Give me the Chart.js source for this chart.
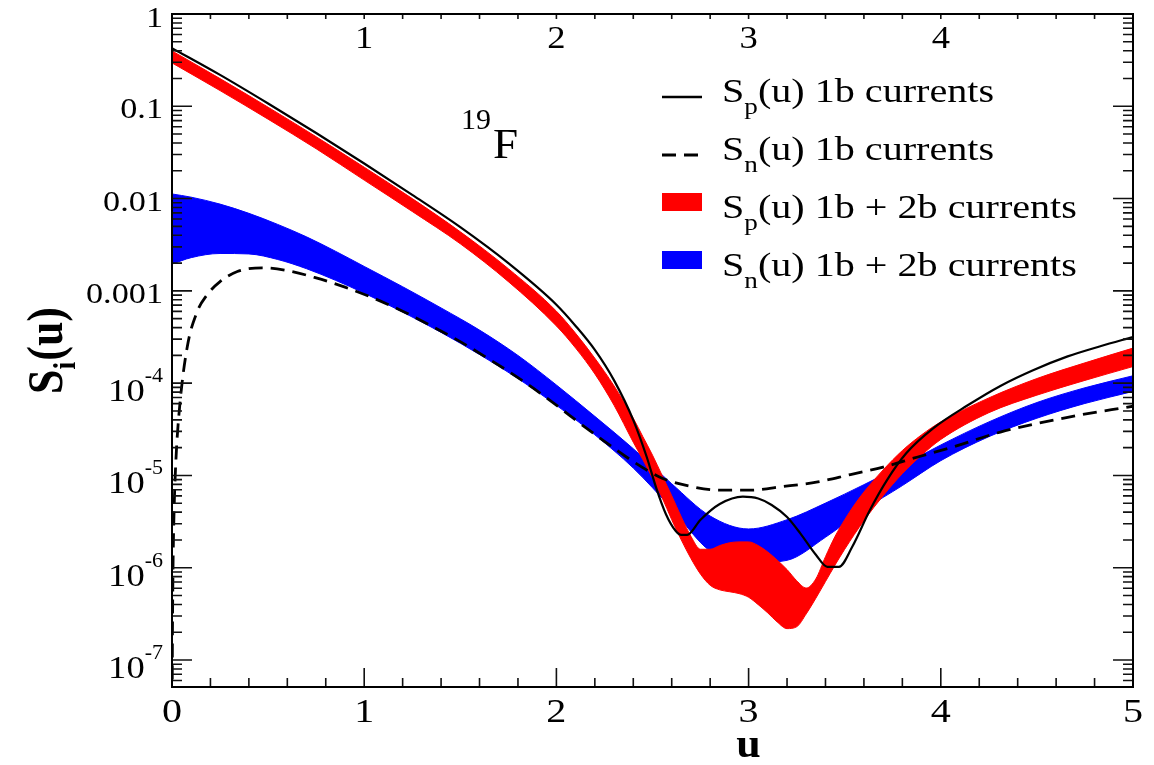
<!DOCTYPE html>
<html>
<head>
<meta charset="utf-8">
<script src="https://cdn.jsdelivr.net/npm/chart.js@4.4.0/dist/chart.umd.min.js"></script>
<style>
  html, body { margin: 0; padding: 0; background: #fff; }
  #wrap { width: 1154px; height: 765px; }
</style>
</head>
<body>
<div id="wrap"><canvas id="chart" width="1154" height="765"></canvas></div>
<script>
// values, y given as log10 S(u)

// S_p(u) 1b currents (solid black)
const uSp1b = [0, 0.25, 0.5, 0.75, 1.0, 1.25, 1.5, 1.75, 2.0, 2.1, 2.2, 2.3, 2.4, 2.47, 2.52, 2.57, 2.62, 2.65, 2.68, 2.75, 2.85, 2.97, 3.05, 3.12, 3.2, 3.27, 3.35, 3.41, 3.47, 3.54, 3.63, 3.72, 3.82, 3.96, 4.14, 4.31, 4.48, 4.66, 4.83, 5.0];
const logSp1b = [-0.37, -0.66, -0.97, -1.29, -1.62, -1.96, -2.31, -2.70, -3.15, -3.38, -3.64, -3.97, -4.40, -4.80, -5.14, -5.42, -5.60, -5.645, -5.645, -5.48, -5.31, -5.23, -5.25, -5.32, -5.45, -5.63, -5.86, -5.99, -5.99, -5.77, -5.38, -5.05, -4.76, -4.49, -4.24, -4.03, -3.86, -3.71, -3.60, -3.50];

// S_n(u) 1b currents (dashed black)
const uSn1b = [0.001, 0.002, 0.005, 0.01, 0.02, 0.04, 0.08, 0.13, 0.18, 0.25, 0.34, 0.47, 0.6, 0.75, 0.9, 1.05, 1.2, 1.35, 1.5, 1.65, 1.8, 1.95, 2.1, 2.25, 2.4, 2.55, 2.7, 2.85, 3.0, 3.18, 3.36, 3.53, 3.7, 3.88, 4.05, 4.31, 4.66, 5.0];
const logSn1b = [-7.45, -6.85, -6.05, -5.45, -4.85, -4.25, -3.6, -3.23, -3.05, -2.90, -2.79, -2.75, -2.78, -2.86, -2.96, -3.08, -3.22, -3.38, -3.55, -3.74, -3.94, -4.16, -4.40, -4.63, -4.85, -5.03, -5.12, -5.16, -5.16, -5.12, -5.07, -4.99, -4.91, -4.80, -4.70, -4.53, -4.37, -4.25];

// S_p(u) 1b + 2b currents (red band)
const uSp12 = [0, 0.25, 0.5, 0.75, 1.0, 1.25, 1.5, 1.75, 2.0, 2.1, 2.2, 2.3, 2.4, 2.45, 2.5, 2.55, 2.6, 2.65, 2.7, 2.75, 2.8, 2.85, 2.9, 2.95, 3.0, 3.05, 3.1, 3.15, 3.2, 3.25, 3.3, 3.35, 3.4, 3.45, 3.5, 3.55, 3.6, 3.7, 3.8, 3.9, 4.0, 4.25, 4.5, 4.75, 5.0];
const logSp12Hi = [-0.40, -0.70, -1.01, -1.33, -1.66, -2.00, -2.36, -2.76, -3.22, -3.46, -3.73, -4.03, -4.38, -4.58, -4.78, -5.00, -5.22, -5.45, -5.66, -5.80, -5.80, -5.76, -5.73, -5.72, -5.72, -5.76, -5.83, -5.92, -6.02, -6.14, -6.22, -6.12, -5.88, -5.66, -5.48, -5.32, -5.18, -4.94, -4.73, -4.56, -4.42, -4.16, -3.95, -3.78, -3.62];
const logSp12Lo = [-0.53, -0.83, -1.14, -1.46, -1.80, -2.14, -2.49, -2.90, -3.38, -3.62, -3.90, -4.24, -4.64, -4.83, -5.03, -5.24, -5.48, -5.70, -5.90, -6.07, -6.19, -6.24, -6.26, -6.28, -6.32, -6.40, -6.49, -6.59, -6.66, -6.64, -6.50, -6.33, -6.15, -5.97, -5.80, -5.64, -5.49, -5.22, -4.98, -4.78, -4.61, -4.32, -4.13, -3.97, -3.82];

// S_n(u) 1b + 2b currents (blue band)
const uSn12 = [0, 0.1, 0.25, 0.4, 0.55, 0.7, 0.85, 1.0, 1.2, 1.4, 1.6, 1.8, 2.0, 2.2, 2.4, 2.6, 2.8, 3.0, 3.2, 3.4, 3.6, 3.8, 4.0, 4.25, 4.5, 4.75, 5.0];
const logSn12Hi = [-1.95, -1.985, -2.06, -2.16, -2.28, -2.415, -2.57, -2.735, -2.955, -3.185, -3.425, -3.70, -4.02, -4.36, -4.71, -5.09, -5.44, -5.58, -5.48, -5.30, -5.10, -4.89, -4.67, -4.42, -4.21, -4.05, -3.92];
const logSn12Lo = [-2.71, -2.64, -2.595, -2.60, -2.66, -2.76, -2.885, -3.025, -3.23, -3.45, -3.69, -3.95, -4.24, -4.56, -4.92, -5.36, -5.82, -5.95, -5.92, -5.67, -5.37, -5.11, -4.84, -4.58, -4.38, -4.22, -4.09];

// axes
const xTickValues = [0, 1, 2, 3, 4, 5];
const xTickLabels = ['0', '1', '2', '3', '4', '5'];
const topTickValues = [1, 2, 3, 4];
const topTickLabels = ['1', '2', '3', '4'];
const yTickValues = [1, 0.1, 0.01, 0.001, 1e-4, 1e-5, 1e-6, 1e-7];
const yTickLabels = ['1', '0.1', '0.01', '0.001', '10^-4', '10^-5', '10^-6', '10^-7'];

const legendItems = [
  { sub: 'p', rest: '(u) 1b currents', kind: 'line' },
  { sub: 'n', rest: '(u) 1b currents', kind: 'dash' },
  { sub: 'p', rest: '(u) 1b + 2b currents', kind: 'red' },
  { sub: 'n', rest: '(u) 1b + 2b currents', kind: 'blue' }
];

const SERIF = '"Liberation Serif", "Times New Roman", serif';
const SX = 1.18; // lettering in the original is a bit wide

function pts(us, logs) {
  return us.map((u, i) => ({ x: u, y: Math.pow(10, logs[i]) }));
}

function drawText(ctx, str, x, y, font, align, sx) {
  ctx.save();
  ctx.font = font;
  ctx.translate(x, y);
  ctx.scale(sx, 1);
  ctx.textAlign = align;
  ctx.textBaseline = 'alphabetic';
  ctx.fillText(str, 0, 0);
  ctx.restore();
}

function textWidth(ctx, str, font, sx) {
  ctx.save();
  ctx.font = font;
  const w = ctx.measureText(str).width * sx;
  ctx.restore();
  return w;
}

const decor = {
  id: 'decor',
  afterDraw(chart) {
    const ctx = chart.ctx;
    const a = chart.chartArea;
    const xs = chart.scales.x;
    const ys = chart.scales.y;
    ctx.save();
    ctx.fillStyle = '#000';

    // inward ticks
    ctx.strokeStyle = '#111';
    ctx.lineWidth = 1.6;
    ctx.beginPath();
    for (let d = -8; d <= 0; d++) {
      for (let m = 1; m <= 9; m++) {
        const v = m * Math.pow(10, d);
        if (v < ys.min || v > ys.max * 1.0001) continue;
        const py = ys.getPixelForValue(v);
        const len = m === 1 ? 20 : 10;
        ctx.moveTo(a.left, py); ctx.lineTo(a.left + len, py);
        ctx.moveTo(a.right, py); ctx.lineTo(a.right - len, py);
      }
    }
    for (let i = 0; i <= 25; i++) {
      const px = xs.getPixelForValue(i * 0.2);
      const len = i % 5 === 0 ? 19 : 9;
      ctx.moveTo(px, a.bottom); ctx.lineTo(px, a.bottom - len);
      ctx.moveTo(px, a.top); ctx.lineTo(px, a.top + 5);
    }
    ctx.stroke();

    // frame
    ctx.strokeStyle = '#000';
    ctx.lineWidth = 2;
    ctx.strokeRect(a.left, a.top, a.right - a.left, a.bottom - a.top);

    // bottom tick labels
    const fx = '34px ' + SERIF;
    xTickValues.forEach((v, i) => {
      drawText(ctx, xTickLabels[i], xs.getPixelForValue(v), a.bottom + 35, fx, 'center', SX);
    });
    // top tick labels (inside the frame)
    const ft = '31px ' + SERIF;
    topTickValues.forEach((v, i) => {
      drawText(ctx, topTickLabels[i], xs.getPixelForValue(v), a.top + 34, ft, 'center', SX);
    });

    // left tick labels
    const fy = '29px ' + SERIF;
    const fsup = '20px ' + SERIF;
    const fyBig = '31px ' + SERIF;
    const xr = a.left - 9;
    yTickValues.forEach((v, i) => {
      const py = ys.getPixelForValue(v);
      const lab = yTickLabels[i];
      if (lab.indexOf('^') >= 0) {
        const [base, exp] = lab.split('^');
        const we = textWidth(ctx, exp, fsup, 1.1);
        drawText(ctx, exp, xr, py - 1, fsup, 'right', 1.1);
        drawText(ctx, base, xr - we, py + 18, fyBig, 'right', SX);
      } else {
        drawText(ctx, lab, xr, py + (v === 1 ? 13 : 12), fy, 'right', SX);
      }
    });

    // x title
    drawText(ctx, 'u', xs.getPixelForValue(3), 757, 'bold 40px ' + SERIF, 'center', 1.1);

    // y title, rotated, reading upwards
    ctx.save();
    ctx.translate(62, 394);
    ctx.scale(1.15, 1);
    ctx.rotate(-Math.PI / 2);
    ctx.textAlign = 'left';
    ctx.textBaseline = 'alphabetic';
    ctx.font = 'bold 44px ' + SERIF;
    ctx.fillText('S', 0, 0);
    let w = ctx.measureText('S').width;
    ctx.font = 'bold 28px ' + SERIF;
    ctx.fillText('i', w, 11);
    w += ctx.measureText('i').width + 1;
    ctx.font = 'bold 44px ' + SERIF;
    ctx.fillText('(u)', w, 0);
    ctx.restore();

    // nucleus label
    drawText(ctx, '19', 461, 129, '30px ' + SERIF, 'left', 1.0);
    drawText(ctx, 'F', 493, 158, '43px ' + SERIF, 'left', 1.05);

    // legend
    const fl = '34px ' + SERIF;
    const fls = '23px ' + SERIF;
    legendItems.forEach((it, i) => {
      const base = 102 + i * 58;
      const sx0 = 662, sx1 = 702;
      if (it.kind === 'line' || it.kind === 'dash') {
        ctx.save();
        ctx.strokeStyle = '#000';
        ctx.lineWidth = it.kind === 'line' ? 2.4 : 2.8;
        if (it.kind === 'dash') ctx.setLineDash([14, 8]);
        ctx.beginPath();
        ctx.moveTo(sx0, base - 5); ctx.lineTo(sx1, base - 5);
        ctx.stroke();
        ctx.restore();
      } else {
        ctx.fillStyle = it.kind === 'red' ? '#ff0000' : '#0000ff';
        ctx.fillRect(sx0, base - 25, sx1 - sx0, 18);
        ctx.fillStyle = '#000';
      }
      let tx = 722;
      drawText(ctx, 'S', tx, base, fl, 'left', SX);
      tx += textWidth(ctx, 'S', fl, SX);
      drawText(ctx, it.sub, tx, base + 12, fls, 'left', SX);
      tx += textWidth(ctx, it.sub, fls, SX);
      drawText(ctx, it.rest, tx, base, fl, 'left', SX);
    });

    ctx.restore();
  }
};

new Chart(document.getElementById('chart'), {
  type: 'line',
  data: {
    datasets: [
      {
        label: 'Sp(u) 1b currents',
        data: pts(uSp1b, logSp1b),
        borderColor: '#000',
        borderWidth: 2.2,
        fill: false
      },
      {
        label: 'Sn(u) 1b currents',
        data: pts(uSn1b, logSn1b),
        borderColor: '#000',
        borderWidth: 2.8,
        borderDash: [14, 8],
        fill: false
      },
      {
        label: 'Sp(u) 1b + 2b currents',
        data: pts(uSp12, logSp12Hi),
        borderColor: '#ff0000',
        backgroundColor: '#ff0000',
        borderWidth: 1,
        fill: '+1'
      },
      {
        label: 'Sp lower',
        data: pts(uSp12, logSp12Lo),
        borderColor: '#ff0000',
        borderWidth: 1,
        fill: false
      },
      {
        label: 'Sn(u) 1b + 2b currents',
        data: pts(uSn12, logSn12Hi),
        borderColor: '#0000ff',
        backgroundColor: '#0000ff',
        borderWidth: 1,
        fill: '+1'
      },
      {
        label: 'Sn lower',
        data: pts(uSn12, logSn12Lo),
        borderColor: '#0000ff',
        borderWidth: 1,
        fill: false
      }
    ]
  },
  options: {
    responsive: false,
    animation: false,
    devicePixelRatio: 1,
    layout: { padding: { left: 172, top: 14, right: 21, bottom: 78 } },
    elements: {
      point: { radius: 0, hoverRadius: 0 },
      line: { cubicInterpolationMode: 'monotone' }
    },
    plugins: {
      legend: { display: false },
      tooltip: { enabled: false }
    },
    scales: {
      x: { type: 'linear', min: 0, max: 5, display: false },
      y: { type: 'logarithmic', min: 5.1e-8, max: 1, display: false }
    }
  },
  plugins: [decor]
});
</script>
</body>
</html>
